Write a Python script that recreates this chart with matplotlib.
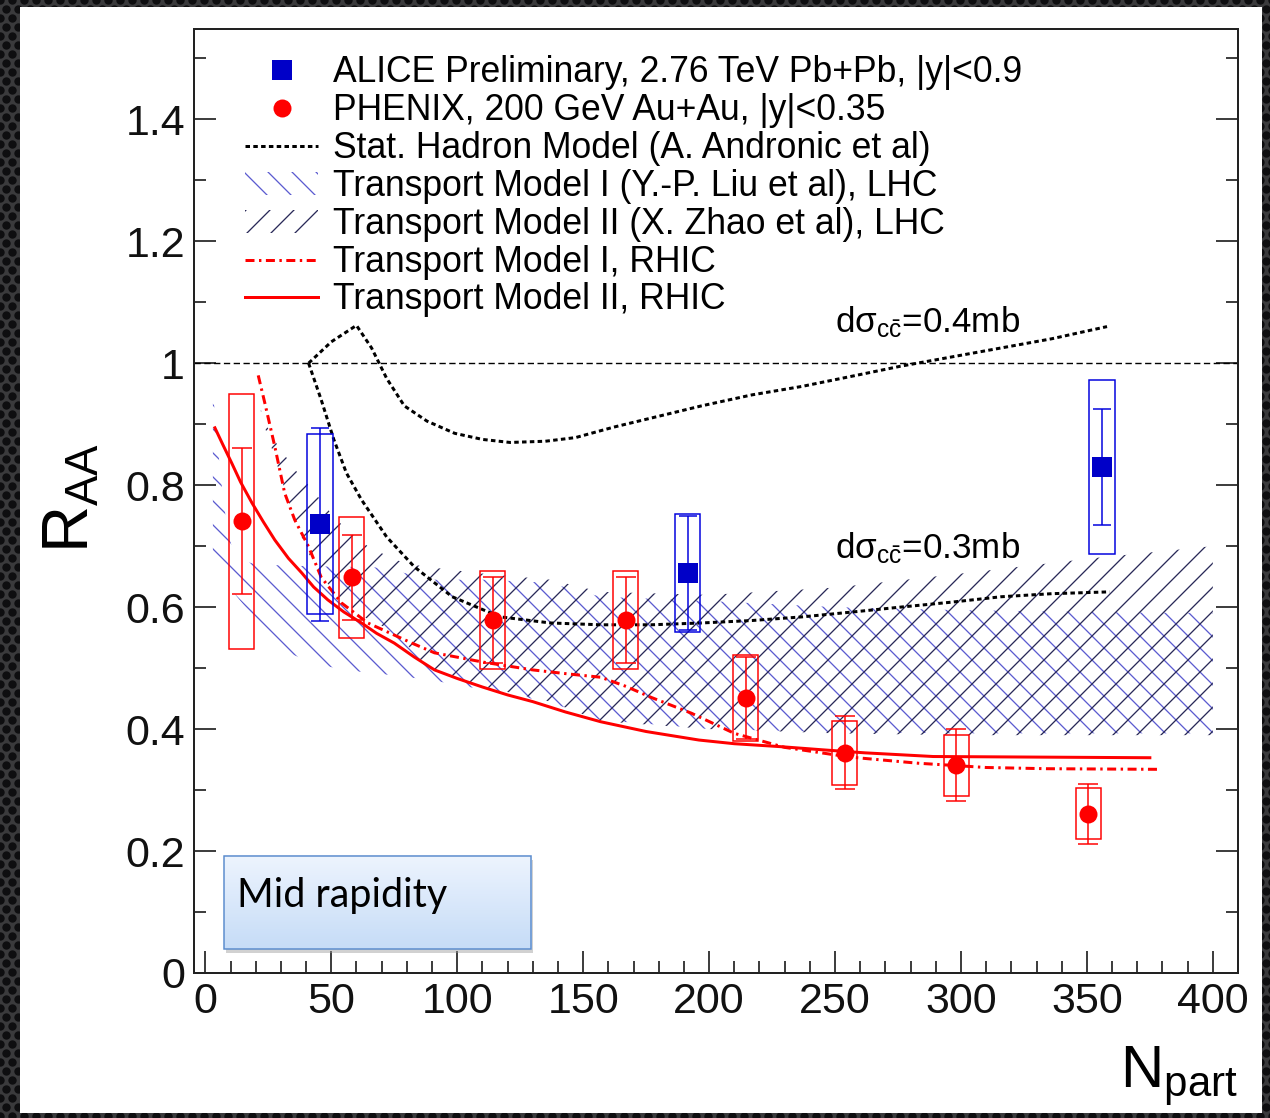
import numpy as np
import matplotlib
matplotlib.use('Agg')
import matplotlib.pyplot as plt
from matplotlib.patches import Rectangle, Patch
from matplotlib.lines import Line2D
from matplotlib.ticker import MultipleLocator, FixedLocator, FixedFormatter
from matplotlib.colors import LinearSegmentedColormap

plt.rcParams['font.family'] = ['Liberation Sans', 'DejaVu Sans']
plt.rcParams['mathtext.default'] = 'regular'
plt.rcParams['hatch.linewidth'] = 1.3

# ---- data ----
# ALICE 2.76 TeV Pb+Pb
alice_npart = [45.5, 191.5, 356.0]
alice_raa = [0.736, 0.656, 0.830]
alice_stat = [0.158, 0.093, 0.095]
alice_syst = [0.148, 0.097, 0.143]

# PHENIX 200 GeV Au+Au
phenix_npart = [14.5, 58.1, 114.1, 166.9, 214.5, 253.8, 298.2, 350.6]
phenix_raa = [0.741, 0.649, 0.579, 0.579, 0.451, 0.361, 0.341, 0.261]
phenix_stat = [0.120, 0.070, 0.070, 0.070, 0.068, 0.060, 0.059, 0.049]
phenix_syst = [0.209, 0.099, 0.080, 0.080, 0.071, 0.053, 0.050, 0.042]

# Stat. hadron model, 0.4 mb
shm04_x = [41, 50, 60, 66, 72, 79, 88, 99, 110, 121, 135, 147, 162, 177, 197,
           217, 237, 256, 276, 296, 316, 336, 358]
shm04_y = [1.0, 1.035, 1.062, 1.025, 0.975, 0.93, 0.905, 0.885, 0.875, 0.87,
           0.872, 0.878, 0.895, 0.91, 0.93, 0.948, 0.962, 0.978, 0.995, 1.01,
           1.025, 1.04, 1.06]
# Stat. hadron model, 0.3 mb
shm03_x = [41, 46, 51, 56, 62, 72, 83, 98, 117, 137, 157, 177, 197, 217, 237,
           257, 276, 296, 316, 336, 359]
shm03_y = [1.0, 0.94, 0.875, 0.82, 0.776, 0.715, 0.666, 0.617, 0.584, 0.574,
           0.571, 0.571, 0.574, 0.578, 0.584, 0.592, 0.600, 0.608, 0.617,
           0.622, 0.625]

# Transport model I (Liu), LHC band
tm1_x = [3, 5, 7, 9, 12, 20, 33, 43, 55, 66, 75, 90, 110, 136, 157, 200, 250,
         300, 352, 400]
tm1_hi = [0.954, 0.86, 0.78, 0.72, 0.68, 0.67, 0.668, 0.667, 0.666, 0.666,
          0.66, 0.645, 0.645, 0.64, 0.617, 0.61, 0.60, 0.595, 0.592, 0.59]
tm1_lo = [0.66, 0.658, 0.656, 0.64, 0.62, 0.579, 0.525, 0.508, 0.497, 0.492,
          0.488, 0.48, 0.465, 0.445, 0.415, 0.40, 0.395, 0.393, 0.393, 0.393]

# Transport model II (Zhao), LHC band
tm2_x = [21.5, 24, 28, 35.5, 43, 51, 58, 64.5, 75, 82, 88, 110, 137, 157, 200,
         250, 300, 352, 400]
tm2_hi = [0.93, 0.90, 0.87, 0.826, 0.79, 0.748, 0.72, 0.70, 0.678, 0.67,
          0.666, 0.655, 0.645, 0.625, 0.62, 0.632, 0.655, 0.68, 0.70]
tm2_lo = [0.93, 0.89, 0.84, 0.74, 0.67, 0.625, 0.60, 0.58, 0.56, 0.53, 0.50,
          0.47, 0.445, 0.413, 0.40, 0.393, 0.39, 0.39, 0.39]

# Transport model I, RHIC
tm1r_x = [21, 23.6, 27.6, 31.5, 35.5, 41, 46, 54, 64.5, 82, 91, 110, 130, 145,
          157, 167, 177, 193, 210, 230, 256, 283, 310, 334, 378]
tm1r_y = [0.98, 0.935, 0.863, 0.787, 0.743, 0.699, 0.649, 0.607, 0.574, 0.541,
          0.525, 0.51, 0.497, 0.49, 0.485, 0.47, 0.452, 0.426, 0.393, 0.37,
          0.354, 0.344, 0.337, 0.335, 0.334]

# Transport model II, RHIC
tm2r_x = [3.8, 7, 10.5, 14, 18.5, 23, 27.6, 33, 38.3, 43, 48.6, 55, 62, 68, 75,
          83, 91, 100, 110, 120, 130, 143, 157, 175, 196, 210, 229, 245, 262,
          289, 332, 375]
tm2r_y = [0.894, 0.866, 0.836, 0.805, 0.771, 0.74, 0.71, 0.68, 0.656, 0.633,
          0.612, 0.592, 0.574, 0.557, 0.541, 0.518, 0.497, 0.483, 0.469, 0.456,
          0.445, 0.428, 0.412, 0.396, 0.382, 0.376, 0.371, 0.366, 0.361,
          0.355, 0.354, 0.353]

yticks = [0, 0.2, 0.4, 0.6, 0.8, 1.0, 1.2, 1.4]
ytick_labels = ['0', '0.2', '0.4', '0.6', '0.8', '1', '1.2', '1.4']
xticks = [0, 50, 100, 150, 200, 250, 300, 350, 400]
xtick_labels = ['0', '50', '100', '150', '200', '250', '300', '350', '400']

W, H = 1270, 1118
fig = plt.figure(figsize=(W / 72, H / 72), dpi=72)
fig.patch.set_facecolor('#3a3a3c')

# dark perforated border
bg = fig.add_axes([0, 0, 1, 1])
bg.set_xlim(0, W)
bg.set_ylim(H, 0)
bg.axis('off')
gx, gy = np.meshgrid(np.arange(0, W + 12, 12), np.arange(0, H + 9, 9))
gx = gx + (np.arange(gx.shape[0])[:, None] % 2) * 6
bg.scatter(gx.ravel(), gy.ravel(), s=70, c='#0e0e10', linewidths=0)
bg.add_patch(Rectangle((20, 7), 1242, 1106, facecolor='white', edgecolor='none', zorder=3))

ax = fig.add_axes([194 / W, 145 / H, 1044 / W, 944 / H])
ax.set_facecolor('white')

blue_hatch = '#5c5cd0'
navy_hatch = '#2a2a58'

ax.fill_between(tm1_x, tm1_lo, tm1_hi, facecolor='none', edgecolor=blue_hatch,
                hatch='\\', linewidth=0, zorder=1)
ax.fill_between(tm2_x, tm2_lo, tm2_hi, facecolor='none', edgecolor=navy_hatch,
                hatch='/', linewidth=0, zorder=1.1)

ax.axhline(1.0, color='black', lw=1.4, linestyle=(0, (4.5, 2.5)), zorder=2)

dot = (0, (1.5, 1.1))
dashdot = (0, (3, 1.5, 0.8, 1.5))
ax.plot(shm04_x, shm04_y, color='black', lw=3, linestyle=dot, zorder=3)
ax.plot(shm03_x, shm03_y, color='black', lw=3, linestyle=dot, zorder=3)
ax.plot(tm1r_x, tm1r_y, color='red', lw=3, linestyle=dashdot, zorder=3)
ax.plot(tm2r_x, tm2r_y, color='red', lw=3, zorder=3)

# systematic boxes
for x, y, s in zip(phenix_npart, phenix_raa, phenix_syst):
    ax.add_patch(Rectangle((x - 5, y - s), 10, 2 * s, fill=False,
                           edgecolor='red', lw=1.5, zorder=4))
for x, y, s in zip(alice_npart, alice_raa, alice_syst):
    ax.add_patch(Rectangle((x - 5, y - s), 10, 2 * s, fill=False,
                           edgecolor='#0000dd', lw=1.5, zorder=4))

ax.errorbar(phenix_npart, phenix_raa, yerr=phenix_stat, fmt='none', ecolor='red',
            elinewidth=1.5, capsize=10, capthick=1.5, zorder=5)
ax.errorbar(alice_npart, alice_raa, yerr=alice_stat, fmt='none', ecolor='#0000dd',
            elinewidth=1.5, capsize=9, capthick=1.5, zorder=5)
ax.plot(alice_npart, alice_raa, 's', color='#0000c8', ms=20, mew=0, zorder=6)
ax.plot(phenix_npart, phenix_raa, 'o', color='red', ms=18, mew=0, zorder=6)

# Mid rapidity box
bx0, bx1, by0, by1 = 7.3, 129.2, 0.039, 0.192
ax.add_patch(Rectangle((bx0 + 1.0, by0 - 0.006), bx1 - bx0, by1 - by0,
                       facecolor='#9a9a9a', edgecolor='none', alpha=0.45, zorder=6))
grad = np.linspace(0, 1, 64).reshape(-1, 1)
cmap = LinearSegmentedColormap.from_list('g', ['#c6dcf7', '#edf4fe'])
ax.imshow(grad, extent=[bx0, bx1, by0, by1], origin='lower', aspect='auto',
          cmap=cmap, zorder=7)
ax.add_patch(Rectangle((bx0, by0), bx1 - bx0, by1 - by0, fill=False,
                       edgecolor='#5b8ccd', lw=1.5, zorder=8))
ax.text(12.5, 0.108, 'Mid rapidity', fontsize=39.5, family='Lato', zorder=9)

ax.text(250, 1.051, r'd$\sigma_{c\bar{c}}$=0.4mb', fontsize=35, zorder=9)
ax.text(250, 0.680, r'd$\sigma_{c\bar{c}}$=0.3mb', fontsize=35, zorder=9)

ax.set_xlim(-4.5, 410)
ax.set_ylim(0, 1.548)
ax.xaxis.set_major_locator(FixedLocator(xticks))
ax.xaxis.set_major_formatter(FixedFormatter(xtick_labels))
ax.xaxis.set_minor_locator(MultipleLocator(10))
ax.yaxis.set_major_locator(FixedLocator(yticks))
ax.yaxis.set_major_formatter(FixedFormatter(ytick_labels))
ax.yaxis.set_minor_locator(MultipleLocator(0.1))
ax.tick_params(which='both', direction='in', top=False, right=True,
               width=1.6, labelsize=43, colors='#111111')
ax.tick_params(which='major', length=22, pad=9)
ax.tick_params(which='minor', length=12)
for sp in ax.spines.values():
    sp.set_linewidth(2)
    sp.set_color('#222222')

handles = [
    Line2D([], [], marker='s', color='#0000c8', ms=20, mew=0, ls='none'),
    Line2D([], [], marker='o', color='red', ms=18, mew=0, ls='none'),
    Line2D([], [], color='black', lw=3, linestyle=dot),
    Patch(facecolor='none', edgecolor=blue_hatch, hatch='\\', linewidth=0),
    Patch(facecolor='none', edgecolor=navy_hatch, hatch='/', linewidth=0),
    Line2D([], [], color='red', lw=3, linestyle=dashdot),
    Line2D([], [], color='red', lw=3),
]
labels = [
    'ALICE Preliminary, 2.76 TeV Pb+Pb, |y|<0.9',
    'PHENIX, 200 GeV Au+Au, |y|<0.35',
    'Stat. Hadron Model (A. Andronic et al)',
    'Transport Model I (Y.-P. Liu et al), LHC',
    'Transport Model II (X. Zhao et al), LHC',
    'Transport Model I, RHIC',
    'Transport Model II, RHIC',
]
leg = ax.legend(handles, labels, loc='upper left', bbox_to_anchor=(0.0489, 0.972),
                frameon=False, fontsize=35.5, handlelength=2.06, handleheight=0.62,
                handletextpad=0.42, labelspacing=0.08, borderpad=0,
                borderaxespad=0, numpoints=1)
leg.set_zorder(10)

fig.text(72 / W, 1 - 498 / H, r'R$_{AA}$', fontsize=65, rotation=90,
         ha='center', va='center')
fig.text(1238 / W, 1 - 1088 / H, r'N$_{part}$', fontsize=60, ha='right',
         va='baseline')

fig.savefig('out.png', dpi=72)
